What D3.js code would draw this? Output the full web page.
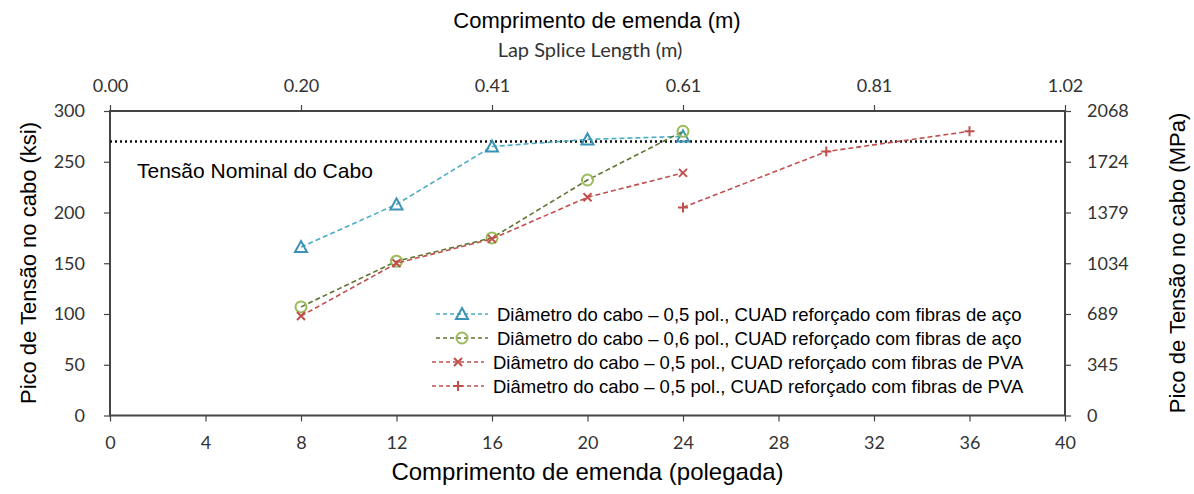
<!DOCTYPE html>
<html><head><meta charset="utf-8">
<script src="https://cdn.jsdelivr.net/npm/d3@7"></script>
<style>body{margin:0;background:#fff}svg{display:block}</style>
</head><body>
<svg id="c" width="1194" height="494"></svg>
<script>
const xTicks = [0,4,8,12,16,20,24,28,32,36,40];
const yTicks = [0,50,100,150,200,250,300];
const topTickPos = [0,8,16,24,32,40];
const topTickLabels = ["0.00","0.20","0.41","0.61","0.81","1.02"];
const rightTickLabels = ["0","345","689","1034","1379","1724","2068"];
const nominal = 270;

const s1x = [8,12,16,20,24];
const s1y = [166,208,265,272,275];
const s2x = [8,12,16,20,24];
const s2y = [107,152,175,232,280];
const s3x = [8,12,16,20,24];
const s3y = [98,150,174,215,239];
const s4x = [24,30,36];
const s4y = [205,260,280];

const seriesNames = [
 "Diâmetro do cabo – 0,5 pol., CUAD reforçado com fibras de aço",
 "Diâmetro do cabo – 0,6 pol., CUAD reforçado com fibras de aço",
 "Diâmetro do cabo – 0,5 pol., CUAD reforçado com fibras de PVA",
 "Diâmetro do cabo – 0,5 pol., CUAD reforçado com fibras de PVA"
];

const svg = d3.select("#c");
const L=110, R=1065, T=111, B=415.5;
const x = d3.scaleLinear().domain([0,40]).range([L,R]);
const y = d3.scaleLinear().domain([0,300]).range([B,T]);

const tickFont = "Lato, 'Open Sans', sans-serif";
const arial = "'Liberation Sans', Arial, sans-serif";
const axisCol = "#444";

function styleAxis(g){
  g.select(".domain").remove();
  g.selectAll(".tick line").attr("stroke",axisCol).attr("stroke-width",1.2);
  g.selectAll(".tick text").attr("font-family",tickFont).attr("font-size",18).attr("fill","#333");
}
svg.append("g").attr("transform",`translate(0,${B})`)
  .call(d3.axisBottom(x).tickValues(xTicks).tickSize(6).tickPadding(15).tickFormat(d3.format("d")))
  .call(styleAxis);
svg.append("g").attr("transform",`translate(${L},0)`)
  .call(d3.axisLeft(y).tickValues(yTicks).tickSize(6).tickPadding(19).tickFormat(d3.format("d")))
  .call(styleAxis);
svg.append("g").attr("transform",`translate(${R},0)`)
  .call(d3.axisRight(y).tickValues(yTicks).tickSize(6).tickPadding(16).tickFormat((d,i)=>rightTickLabels[i]))
  .call(styleAxis);
svg.append("g").attr("transform",`translate(0,${T})`)
  .call(d3.axisTop(x).tickValues(topTickPos).tickSize(6).tickPadding(13).tickFormat((d,i)=>topTickLabels[i]))
  .call(styleAxis);

svg.append("rect").attr("x",L).attr("y",T).attr("width",R-L).attr("height",B-T)
  .attr("fill","none").attr("stroke",axisCol).attr("stroke-width",2);

svg.append("line").attr("x1",L).attr("x2",R).attr("y1",y(nominal)).attr("y2",y(nominal))
  .attr("stroke","#111").attr("stroke-width",2.4).attr("stroke-dasharray","2,3");
svg.append("text").attr("x",137).attr("y",178).attr("font-family",arial).attr("font-size",21)
  .attr("fill","#000").text("Tensão Nominal do Cabo");

const series = [
 {xs:s1x, ys:s1y, line:"#4BACC6", mk:"#3A93B5", type:"tri"},
 {xs:s2x, ys:s2y, line:"#5F7530", mk:"#9BBB59", type:"circ"},
 {xs:s3x, ys:s3y, line:"#C0504D", mk:"#C0504D", type:"x"},
 {xs:s4x, ys:s4y, line:"#C0504D", mk:"#C0504D", type:"plus"}
];
const lineGen = d3.line().x(d=>x(d[0])).y(d=>y(d[1]));

function marker(g, type, col, cx, cy){
  if(type==="tri"){
    g.append("path").attr("d",`M${cx},${cy-6}L${cx+6},${cy+5}L${cx-6},${cy+5}Z`)
      .attr("fill","none").attr("stroke",col).attr("stroke-width",2);
  } else if(type==="circ"){
    g.append("circle").attr("cx",cx).attr("cy",cy).attr("r",5.5)
      .attr("fill","none").attr("stroke",col).attr("stroke-width",2);
  } else if(type==="x"){
    g.append("path").attr("d",`M${cx-4},${cy-4}L${cx+4},${cy+4}M${cx-4},${cy+4}L${cx+4},${cy-4}`)
      .attr("stroke",col).attr("stroke-width",2);
  } else {
    g.append("path").attr("d",`M${cx-5},${cy}L${cx+5},${cy}M${cx},${cy-5}L${cx},${cy+5}`)
      .attr("stroke",col).attr("stroke-width",2);
  }
}

series.forEach(s=>{
  const pts = s.xs.map((v,i)=>[v,s.ys[i]]);
  svg.append("path").datum(pts).attr("d",lineGen).attr("fill","none")
    .attr("stroke",s.line).attr("stroke-width",1.6).attr("stroke-dasharray","5,3");
  const g = svg.append("g");
  pts.forEach(p=>marker(g,s.type,s.mk,x(p[0]),y(p[1])));
});

const legY = [314,338,362,386];
const legX0 = [436,436,432,432];
const legTX = [497,497,493,493];
series.forEach((s,i)=>{
  svg.append("line").attr("x1",legX0[i]).attr("x2",legX0[i]+52).attr("y1",legY[i]).attr("y2",legY[i])
    .attr("stroke",s.line).attr("stroke-width",1.6).attr("stroke-dasharray","4,3");
  const g = svg.append("g");
  marker(g,s.type,s.mk,legX0[i]+26,legY[i]);
  svg.append("text").attr("x",legTX[i]).attr("y",legY[i]+6.5).attr("font-family",arial)
    .attr("font-size",18.5).attr("fill","#000").text(seriesNames[i]);
});

svg.append("text").attr("x",(L+R)/2).attr("y",480).attr("text-anchor","middle")
  .attr("font-family",arial).attr("font-size",24).attr("fill","#000").text("Comprimento de emenda (polegada)");
svg.append("text").attr("x",597).attr("y",28).attr("text-anchor","middle")
  .attr("font-family",arial).attr("font-size",22).attr("fill","#000").text("Comprimento de emenda (m)");
svg.append("text").attr("x",590).attr("y",57).attr("text-anchor","middle")
  .attr("font-family",tickFont).attr("font-size",20).attr("fill","#333").text("Lap Splice Length (m)");
svg.append("text").attr("transform",`translate(36,263) rotate(-90)`).attr("text-anchor","middle")
  .attr("font-family",arial).attr("font-size",22).attr("fill","#000").text("Pico de Tensão no cabo (ksi)");
svg.append("text").attr("transform",`translate(1185,263) rotate(-90)`).attr("text-anchor","middle")
  .attr("font-family",arial).attr("font-size",22).attr("fill","#000").text("Pico de Tensão no cabo (MPa)");
</script>
</body></html>
